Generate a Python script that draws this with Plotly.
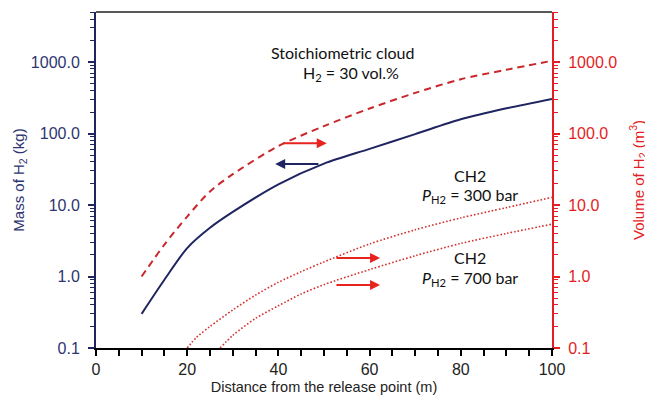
import plotly.graph_objects as go

# Distance from the release point (m)
x_mass = [10, 15, 20, 25, 30, 40, 50, 60, 70, 80, 90, 100]
mass_kg = [0.30, 0.9, 2.5, 4.8, 8.0, 19.5, 38, 61, 98, 158, 225, 305]

x_cloud = [10, 15, 20, 25, 30, 40, 50, 60, 70, 80, 90, 100]
vol_cloud = [1.0, 2.8, 6.9, 15.5, 27, 67, 127, 224, 370, 575, 780, 1040]

x_300 = [20, 22, 25, 30, 35, 40, 45, 50, 60, 70, 80, 90, 100]
vol_300 = [0.1, 0.14, 0.2, 0.34, 0.55, 0.83, 1.17, 1.6, 2.85, 4.5, 6.6, 9.2, 12.8]

x_700 = [27.2, 30, 35, 40, 45, 50, 60, 70, 80, 90, 100]
vol_700 = [0.1, 0.15, 0.26, 0.39, 0.57, 0.77, 1.25, 1.95, 2.9, 4.0, 5.4]

y_tickvals = [0.1, 1, 10, 100, 1000]
y_ticktext = ["0.1", "1.0", "10.0", "100.0", "1000.0"]
x_tickvals = [0, 20, 40, 60, 80, 100]

NAVY = "#1F2560"
NAVY_TXT = "#2E3570"
RED_AX = "#E31E24"
RED_DASH = "#C8272C"
RED_DOT = "#D2322D"

fig = go.Figure()
fig.add_trace(go.Scatter(x=x_mass, y=mass_kg, mode="lines", yaxis="y",
                         line=dict(color=NAVY, width=2, shape="spline", smoothing=0.8)))
fig.add_trace(go.Scatter(x=x_cloud, y=vol_cloud, mode="lines", yaxis="y2",
                         line=dict(color=RED_DASH, width=2, dash="7px,5px", shape="spline", smoothing=0.8)))
fig.add_trace(go.Scatter(x=x_300, y=vol_300, mode="lines", yaxis="y2",
                         line=dict(color=RED_DOT, width=1.6, dash="1.6px,2px", shape="spline", smoothing=0.8)))
fig.add_trace(go.Scatter(x=x_700, y=vol_700, mode="lines", yaxis="y2",
                         line=dict(color=RED_DOT, width=1.6, dash="1.6px,2px", shape="spline", smoothing=0.8)))

AX_FONT = "Liberation Sans, Arial"
fig.update_layout(
    width=645, height=399,
    margin=dict(l=88, r=101, t=4, b=59),
    plot_bgcolor="white", paper_bgcolor="white",
    showlegend=False,
    xaxis=dict(range=[0, 100], tickvals=x_tickvals, ticks="outside", ticklen=6, tickwidth=1.5,
               tickcolor="black", showline=True, linecolor="black", linewidth=2,
               showgrid=False, zeroline=False, automargin=False,
               minor=dict(dtick=5, ticks="outside", ticklen=6, tickwidth=1.5, tickcolor="black"),
               tickfont=dict(family=AX_FONT, size=16, color="#222222"),
               title=dict(text="Distance from the release point (m)", standoff=5,
                          font=dict(family=AX_FONT, size=14.5, color="#222222"))),
    yaxis=dict(type="log", range=[-1, 3.7], tickvals=y_tickvals, ticktext=y_ticktext,
               ticks="outside", ticklen=6, tickwidth=1.5, tickcolor=NAVY,
               showline=True, linecolor=NAVY, linewidth=2, showgrid=False, zeroline=False,
               automargin=False, ticklabelstandoff=5,
               minor=dict(ticks="outside", ticklen=4, tickwidth=1, tickcolor=NAVY, dtick="D1"),
               tickfont=dict(family=AX_FONT, size=16, color=NAVY_TXT),
               title=dict(text="Mass of H<sub>2</sub> (kg)", standoff=3,
                          font=dict(family=AX_FONT, size=15, color=NAVY_TXT))),
    yaxis2=dict(type="log", range=[-1, 3.7], overlaying="y", side="right",
                tickvals=y_tickvals, ticktext=y_ticktext,
                ticks="outside", ticklen=6, tickwidth=1.5, tickcolor=RED_AX,
                showline=True, linecolor=RED_AX, linewidth=2, showgrid=False, zeroline=False,
                automargin=False, ticklabelstandoff=5,
                minor=dict(ticks="outside", ticklen=4, tickwidth=1, tickcolor=RED_AX, dtick="D1"),
                tickfont=dict(family=AX_FONT, size=16, color=RED_AX),
                title=dict(text="Volume of H<sub>2</sub> (m<sup>3</sup>)", standoff=17,
                           font=dict(family=AX_FONT, size=15, color=RED_AX))),
)

# top border
fig.add_shape(type="line", xref="paper", yref="paper", x0=0, x1=1, y0=1, y1=1,
              line=dict(color="#595959", width=2))

txtfont = dict(family="Lato, Open Sans", size=16, color="#111111")
# text positions: yref="y" on a log axis takes log10 values
labels = [
    (54, 3.14, "Stoichiometric cloud"),
    (56, 2.846, "H<sub>2</sub> = 30 vol.%"),
    (82, 1.42, "CH2"),
    (82, 1.14, "<i>P</i><sub>H2</sub> = 300 bar"),
    (82, 0.259, "CH2"),
    (82, -0.021, "<i>P</i><sub>H2</sub> = 700 bar"),
]
for lx, ly, t in labels:
    fig.add_annotation(x=lx, y=ly, xref="x", yref="y", text=t, showarrow=False,
                       font=txtfont, xanchor="center", yanchor="middle")

# arrows (data coordinates; log axis uses log10 values)
arrows = [
    (50.6, 1.863, 40.7, 1.863, "#E8231E"),
    (39.3, 1.573, 49.1, 1.573, NAVY),
    (62.3, 0.259, 52.4, 0.259, "#E8231E"),
    (62.3, -0.119, 52.4, -0.119, "#E8231E"),
]
for hx, hy, tx, ty, c in arrows:
    fig.add_annotation(x=hx, y=hy, ax=tx, ay=ty, xref="x", yref="y", axref="x", ayref="y",
                       showarrow=True, arrowhead=2, arrowsize=1, arrowwidth=2, arrowcolor=c, text="")

fig.write_html("out.html")
